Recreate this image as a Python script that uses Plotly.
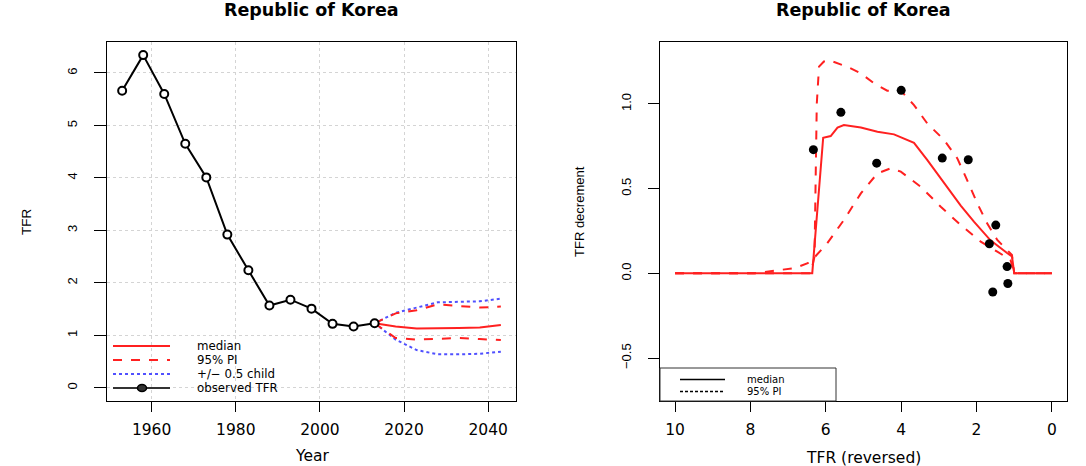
import plotly.graph_objects as go

W, H = 1086, 466

# ---------------- data: left panel ----------------
years_obs = [1953, 1958, 1963, 1968, 1973, 1978, 1983, 1988, 1993, 1998, 2003, 2008, 2013]
tfr_obs = [5.66, 6.34, 5.60, 4.65, 4.01, 2.92, 2.24, 1.57, 1.68, 1.51, 1.22, 1.17, 1.23]

years_proj = [2013, 2018, 2023, 2028, 2033, 2038, 2043]
tfr_median = [1.23, 1.17, 1.13, 1.13, 1.14, 1.15, 1.20]
tfr_pi_up = [1.23, 1.42, 1.48, 1.59, 1.56, 1.53, 1.55]
tfr_pi_lo = [1.23, 0.95, 0.92, 0.93, 0.95, 0.93, 0.91]
tfr_half_up = [1.23, 1.43, 1.53, 1.63, 1.64, 1.65, 1.70]
tfr_half_lo = [1.23, 0.92, 0.72, 0.64, 0.64, 0.65, 0.69]

left_xticks = [1960, 1980, 2000, 2020, 2040]
left_yticks = [0, 1, 2, 3, 4, 5, 6]

# ---------------- data: right panel ----------------
dec_obs_tfr = [6.33, 5.60, 4.65, 4.00, 2.91, 2.22, 1.57, 1.66, 1.49, 1.19, 1.17]
dec_obs_val = [0.73, 0.95, 0.65, 1.08, 0.68, 0.67, -0.11, 0.175, 0.285, 0.04, -0.06]

med_tfr = [10.0, 6.36, 6.07, 5.87, 5.69, 5.52, 5.07, 4.63, 4.19, 3.66, 3.31, 2.86, 2.42, 2.07, 1.63, 1.19, 1.06, 1.0, 0.0]
med_dec = [0.0, 0.0, 0.80, 0.81, 0.86, 0.875, 0.86, 0.835, 0.82, 0.77, 0.67, 0.53, 0.40, 0.305, 0.195, 0.12, 0.10, 0.0, 0.0]

up_tfr = [10.0, 6.40, 6.30, 6.24, 6.18, 6.05, 5.92, 5.43, 5.07, 4.72, 4.37, 4.01, 3.66, 3.31, 2.86, 2.51, 2.25, 1.98, 1.72, 1.45, 1.19, 1.06, 1.0, 0.0]
up_dec = [0.0, 0.0, 0.10, 1.00, 1.22, 1.25, 1.258, 1.219, 1.18, 1.121, 1.078, 1.078, 0.993, 0.885, 0.787, 0.678, 0.55, 0.413, 0.295, 0.197, 0.138, 0.108, 0.0, 0.0]

lo_tfr = [10.0, 7.9, 7.37, 6.84, 6.48, 6.36, 5.96, 5.52, 5.07, 4.63, 4.28, 4.01, 3.48, 2.95, 2.42, 1.89, 1.45, 1.10, 1.0, 0.0]
lo_dec = [0.0, 0.0, 0.016, 0.03, 0.06, 0.08, 0.178, 0.315, 0.472, 0.59, 0.62, 0.60, 0.511, 0.393, 0.285, 0.187, 0.128, 0.08, 0.0, 0.0]

right_xticks = [10, 8, 6, 4, 2, 0]
right_yticks = [-0.5, 0.0, 0.5, 1.0]
right_yticktext = ["\u22120.5", "0.0", "0.5", "1.0"]

title_text = "Republic of Korea"

RED = "#ff2020"
BLUE = "#5050ff"
HFONT = "DejaVu Sans"
VFONT = "Liberation Sans"

fig = go.Figure()

# left panel traces
fig.add_trace(go.Scatter(x=years_proj, y=tfr_half_up, mode="lines", xaxis="x", yaxis="y",
                         line=dict(color=BLUE, width=2, dash="dot"), showlegend=False))
fig.add_trace(go.Scatter(x=years_proj, y=tfr_half_lo, mode="lines", xaxis="x", yaxis="y",
                         line=dict(color=BLUE, width=2, dash="dot"), showlegend=False))
fig.add_trace(go.Scatter(x=years_proj, y=tfr_pi_up, mode="lines", xaxis="x", yaxis="y",
                         line=dict(color=RED, width=2, dash="dash"), showlegend=False))
fig.add_trace(go.Scatter(x=years_proj, y=tfr_pi_lo, mode="lines", xaxis="x", yaxis="y",
                         line=dict(color=RED, width=2, dash="dash"), showlegend=False))
fig.add_trace(go.Scatter(x=years_proj, y=tfr_median, mode="lines", xaxis="x", yaxis="y",
                         line=dict(color=RED, width=2), showlegend=False))
fig.add_trace(go.Scatter(x=years_obs, y=tfr_obs, mode="lines+markers", xaxis="x", yaxis="y",
                         line=dict(color="black", width=2),
                         marker=dict(symbol="circle", size=8, color="white",
                                     line=dict(color="black", width=2)),
                         showlegend=False))

# right panel traces
fig.add_trace(go.Scatter(x=up_tfr, y=up_dec, mode="lines", xaxis="x2", yaxis="y2",
                         line=dict(color=RED, width=2, dash="dash"), showlegend=False))
fig.add_trace(go.Scatter(x=lo_tfr, y=lo_dec, mode="lines", xaxis="x2", yaxis="y2",
                         line=dict(color=RED, width=2, dash="dash"), showlegend=False))
fig.add_trace(go.Scatter(x=med_tfr, y=med_dec, mode="lines", xaxis="x2", yaxis="y2",
                         line=dict(color=RED, width=2), showlegend=False))
fig.add_trace(go.Scatter(x=dec_obs_tfr, y=dec_obs_val, mode="markers", xaxis="x2", yaxis="y2",
                         marker=dict(symbol="circle", size=9, color="black"), showlegend=False))

def px(x):
    return x / W

def py(y):
    return 1 - y / H

ydom = [py(401), py(42)]

common_axis = dict(showline=True, mirror=True, linecolor="black", linewidth=1,
                   ticks="outside", tickcolor="black", zeroline=False)

fig.update_layout(
    width=W, height=H, margin=dict(l=0, r=0, t=0, b=0),
    paper_bgcolor="white", plot_bgcolor="white",
    xaxis=dict(domain=[px(107), px(516)], range=[1949.4, 2046.6], tickvals=left_xticks,
               ticklen=10, showgrid=True, gridcolor="#d4d4d4", griddash="dot", gridwidth=1,
               tickfont=dict(family=HFONT, size=15.5, color="black"), anchor="y",
               ticklabelstandoff=4, **common_axis),
    yaxis=dict(domain=ydom, range=[-0.25, 6.59], tickvals=left_yticks, tickangle=-90,
               ticklen=12, showgrid=True, gridcolor="#d4d4d4", griddash="dot", gridwidth=1,
               tickfont=dict(family=VFONT, size=13, color="black"), anchor="x",
               ticklabelstandoff=12, **common_axis),
    xaxis2=dict(domain=[px(660), px(1067)], range=[10.4, -0.4], tickvals=right_xticks,
                ticklen=10, showgrid=False,
                tickfont=dict(family=HFONT, size=15.5, color="black"), anchor="y2",
                ticklabelstandoff=4, **common_axis),
    yaxis2=dict(domain=ydom, range=[-0.753, 1.365], tickvals=right_yticks,
                ticktext=right_yticktext, tickangle=-90,
                ticklen=11, showgrid=False,
                tickfont=dict(family=VFONT, size=13, color="black"), anchor="x2",
                ticklabelstandoff=12, **common_axis),
)

ann = []
# titles
for cx in (311.5, 863.5):
    ann.append(dict(text=title_text, x=px(cx), y=py(9.5), xref="paper", yref="paper",
                    xanchor="center", yanchor="middle", showarrow=False,
                    font=dict(family=HFONT, size=17.5, color="black", weight="bold")))
# axis titles
ann.append(dict(text="Year", x=px(311.5), y=py(456), xref="paper", yref="paper",
                xanchor="center", yanchor="middle", showarrow=False,
                font=dict(family=HFONT, size=15.5, color="black")))
ann.append(dict(text="TFR (reversed)", x=px(863.5), y=py(458), xref="paper", yref="paper",
                xanchor="center", yanchor="middle", showarrow=False,
                font=dict(family=HFONT, size=15.5, color="black")))
ann.append(dict(text="TFR", x=px(26), y=py(222), xref="paper", yref="paper", textangle=-90,
                xanchor="center", yanchor="middle", showarrow=False,
                font=dict(family=VFONT, size=13.5, color="black")))
ann.append(dict(text="TFR decrement", x=px(579), y=py(212), xref="paper", yref="paper", textangle=-90,
                xanchor="center", yanchor="middle", showarrow=False,
                font=dict(family=VFONT, size=13, color="black")))

shapes = []
# left legend (no box)
leg_left = [
    ("median", dict(color=RED, width=2, dash="solid")),
    ("95% PI", dict(color=RED, width=2, dash="dash")),
    ("+/\u2212 0.5 child", dict(color=BLUE, width=2, dash="dot")),
    ("observed TFR", dict(color="#333333", width=2, dash="solid")),
]
for i, (lab, ln) in enumerate(leg_left):
    yy = 346 + 14 * i
    shapes.append(dict(type="line", xref="paper", yref="paper", x0=px(113), x1=px(170),
                       y0=py(yy), y1=py(yy), line=ln, layer="above"))
    ann.append(dict(text=lab, x=px(196), y=py(yy), xref="paper", yref="paper",
                    xanchor="left", yanchor="middle", showarrow=False, borderpad=0,
                    font=dict(family=HFONT, size=11.8, color="black")))
shapes.append(dict(type="circle", xref="paper", yref="paper", x0=px(137.5), x1=px(146.5),
                   y0=py(391.5), y1=py(384.5), fillcolor="#333333",
                   line=dict(color="black", width=1.5), layer="above"))

# right legend (boxed)
shapes.append(dict(type="rect", xref="paper", yref="paper", x0=px(660), x1=px(836),
                   y0=py(401), y1=py(368), fillcolor="white",
                   line=dict(color="#333333", width=1), layer="above"))
leg_right = [
    ("median", dict(color="black", width=1.5, dash="solid"), 379.5),
    ("95% PI", dict(color="black", width=1.5, dash="3px,2px"), 391.5),
]
for lab, ln, yy in leg_right:
    shapes.append(dict(type="line", xref="paper", yref="paper", x0=px(680), x1=px(725),
                       y0=py(yy), y1=py(yy), line=ln, layer="above"))
    ann.append(dict(text=lab, x=px(746), y=py(yy), xref="paper", yref="paper",
                    xanchor="left", yanchor="middle", showarrow=False, borderpad=0,
                    font=dict(family=HFONT, size=10, color="black")))

fig.update_layout(annotations=ann, shapes=shapes)

fig.write_html("out.html")
